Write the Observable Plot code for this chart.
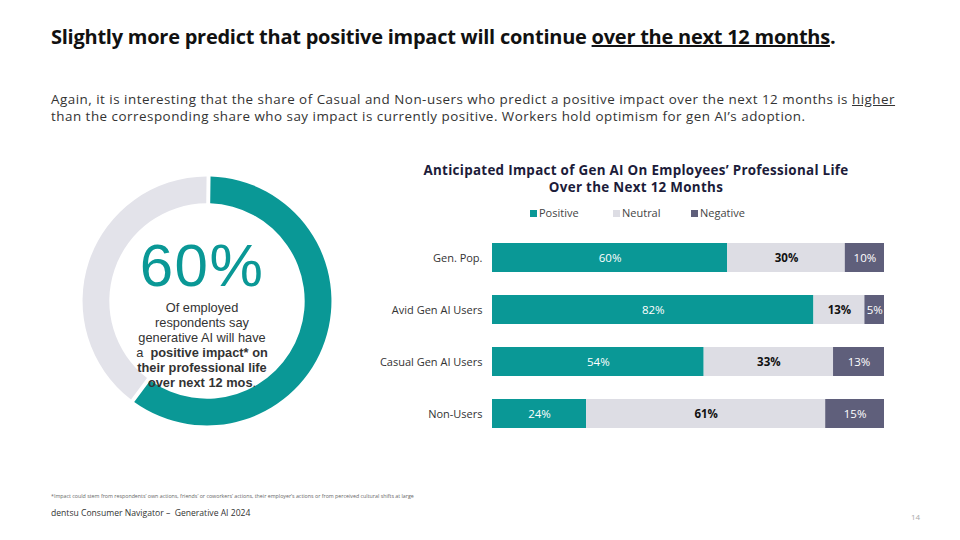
<!DOCTYPE html>
<html>
<head>
<meta charset="utf-8">
<script src="https://cdn.jsdelivr.net/npm/d3@7"></script>
<script src="https://cdn.jsdelivr.net/npm/@observablehq/plot@0.6"></script>
<style>
  html, body { margin: 0; padding: 0; background: #fff; }
  body { width: 960px; height: 540px; position: relative; overflow: hidden; font-family: "Open Sans", "Noto Sans", sans-serif; color: #222; }
  .abs { position: absolute; }
  #title { left: 51px; top: 23px; font-size: 20px; font-weight: 700; color: #111; white-space: nowrap; letter-spacing: -0.25px; }
  #sub { left: 51px; top: 91px; font-size: 13.4px; line-height: 17px; color: #333; white-space: nowrap; letter-spacing: 0.5px; }
  #ctitle { left: 380px; top: 162px; width: 512px; text-align: center; font-size: 13.4px; font-weight: 700; color: #1c1c3a; line-height: 17px; letter-spacing: 0.3px; white-space: nowrap; }
  #legend { left: 380px; top: 205px; width: 512px; font-size: 11px; color: #444; }
  .lg { position: absolute; top: 0; white-space: nowrap; }
  .sw { display: inline-block; width: 7px; height: 7px; margin-right: 2px; vertical-align: 0px; }
  #donut { left: 76px; top: 170px; }
  #big { left: 102px; top: 231px; width: 200px; text-align: center; font-family: "Liberation Sans", Arial, sans-serif; font-size: 60px; line-height: 69px; color: #0a9896; letter-spacing: 1.5px; }
  #dlines { left: 102px; top: 300px; width: 200px; text-align: center; color: #333; font-family: "Liberation Sans", Arial, sans-serif; font-size: 12.8px; line-height: 15px; white-space: nowrap; }
  #bars { left: 380px; top: 220px; }
  #foot { left: 51px; top: 492px; font-size: 5.3px; color: #666; white-space: nowrap; }
  #brand { left: 51px; top: 507px; font-size: 8.6px; color: #333; white-space: nowrap; }
  #page { left: 911px; top: 511px; font-size: 8px; color: #aaa; }
</style>
</head>
<body>
<div id="title" class="abs">Slightly more predict that positive impact will continue <u>over the next 12 months</u>.</div>
<div id="sub" class="abs">Again, it is interesting that the share of Casual and Non-users who predict a positive impact over the next 12 months is <u>higher</u><br>than the corresponding share who say impact is currently positive. Workers hold optimism for gen AI’s adoption.</div>
<div id="donut" class="abs"></div>
<div id="big" class="abs">60%</div>
<div id="dlines" class="abs">Of employed<br>respondents say<br>generative AI will have<br>a&nbsp; <b>positive impact* on<br>their professional life<br>over next 12 mos</b>.</div>
<div id="ctitle" class="abs">Anticipated Impact of Gen AI On Employees’ Professional Life<br>Over the Next 12 Months</div>
<div id="legend" class="abs"></div>
<div id="bars" class="abs"></div>
<div id="foot" class="abs">*Impact could stem from respondents’ own actions, friends’ or coworkers’ actions, their employer’s actions or from perceived cultural shifts at large</div>
<div id="brand" class="abs">dentsu Consumer Navigator –&nbsp; Generative AI 2024</div>
<div id="page" class="abs">14</div>
<script>
// ---- data ----
const donutLabels = ["Positive", "Other"];
const donutValues = [60, 40];
const categories = ["Gen. Pop.", "Avid Gen AI Users", "Casual Gen AI Users", "Non-Users"];
const positive = [60, 82, 54, 24];
const neutral = [30, 13, 33, 61];
const negative = [10, 5, 13, 15];
const seriesNames = ["Positive", "Neutral", "Negative"];
const seriesColors = ["#0a9896", "#dddde4", "#5f5f7b"];

// ---- donut ----
const donutData = donutLabels.map((k, i) => ({key: k, value: donutValues[i]}));
const donutColors = ["#0a9896", "#e3e3ea"];
const donut = Plot.plot({
  width: 262, height: 262, margin: 0,
  x: {domain: [-1, 1], axis: null},
  y: {domain: [-1, 1], axis: null},
  marks: [
    (index, scales, values, dimensions) => {
      const cx = scales.x(0), cy = scales.y(0);
      const R = Math.abs(scales.x(1) - scales.x(0)) * 0.95;
      const pie = d3.pie().sort(null).value(d => d.value);
      const arc = d3.arc().innerRadius(R * 0.785).outerRadius(R).padAngle(0.025);
      const g = d3.create("svg:g").attr("transform", `translate(${cx},${cy})`);
      g.selectAll("path").data(pie(donutData)).join("path")
        .attr("d", d => arc({...d, startAngle: d.startAngle + 0.0125, endAngle: d.endAngle + 0.0125}))
        .attr("fill", (d, i) => donutColors[i]);
      return g.node();
    }
  ]
});
document.getElementById("donut").append(donut);

// ---- legend ----
const legendX = [150, 233, 311];
const leg = document.getElementById("legend");
seriesNames.forEach((s, i) => {
  const el = document.createElement("span");
  el.className = "lg";
  el.style.left = legendX[i] + "px";
  el.innerHTML = `<span class="sw" style="background:${seriesColors[i]}"></span>${s}`;
  leg.append(el);
});

// ---- bars ----
const rows = [];
categories.forEach((c, i) => {
  rows.push({cat: c, series: "Positive", value: positive[i]});
  rows.push({cat: c, series: "Neutral", value: neutral[i]});
  rows.push({cat: c, series: "Negative", value: negative[i]});
});
const bars = Plot.plot({
  width: 520, height: 230,
  marginLeft: 112, marginRight: 16, marginTop: 10, marginBottom: 9,
  style: {fontFamily: "'Open Sans', 'Noto Sans', sans-serif", background: "transparent", color: "#333"},
  x: {domain: [0, 100], axis: null},
  y: {domain: categories, paddingInner: 0.45, paddingOuter: 0.225, axis: null},
  color: {domain: seriesNames, range: seriesColors},
  marks: [
    Plot.barX(rows, Plot.stackX({x: "value", y: "cat", fill: "series", z: "series", order: seriesNames})),
    Plot.text(rows, Plot.stackX({x: "value", y: "cat", z: "series", order: seriesNames,
      text: d => d.series === "Neutral" ? "" : d.value + "%", fill: "white", fontSize: 11.5})),
    Plot.text(rows, Plot.stackX({x: "value", y: "cat", z: "series", order: seriesNames,
      text: d => d.series === "Neutral" ? d.value + "%" : "", fill: "#111", fontSize: 11.5, fontWeight: 700})),
    Plot.axisY({tickSize: 0, tickPadding: 10, fontSize: 11, label: null})
  ]
});
document.getElementById("bars").append(bars);
</script>
</body>
</html>
